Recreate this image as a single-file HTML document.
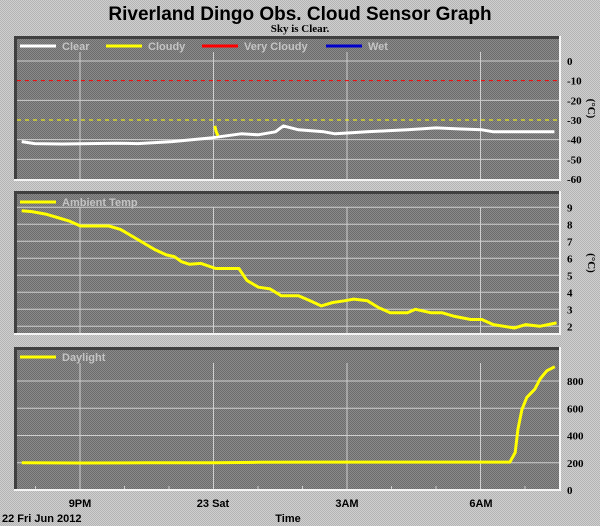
<!DOCTYPE html>
<html><head><meta charset="utf-8"><style>
html,body{margin:0;padding:0;background:#c6c6c6;}
svg{display:block;font-family:"Liberation Sans",sans-serif;}
.ax{font-family:"Liberation Serif",serif;font-weight:bold;font-size:11px;fill:#000;}
.xl{font-family:"Liberation Sans",sans-serif;font-weight:bold;font-size:11px;fill:#000;}
.lg{font-weight:bold;font-size:11px;fill:#c4c4c4;}
</style></head><body>
<svg id="chart" width="600" height="526" viewBox="0 0 600 526">
<defs>
<pattern id="bgp" width="2" height="2" patternUnits="userSpaceOnUse"><rect width="2" height="2" fill="#cfcfcf"/><rect width="1" height="1" fill="#b4b4b4"/><rect x="1" y="1" width="1" height="1" fill="#b4b4b4"/></pattern>
<pattern id="plp" width="2" height="2" patternUnits="userSpaceOnUse"><rect width="2" height="2" fill="#8a8a8a"/><rect width="1" height="1" fill="#6c6c6c"/><rect x="1" y="1" width="1" height="1" fill="#6c6c6c"/></pattern>
</defs>
<rect width="600" height="526" fill="url(#bgp)"/>
<text x="300" y="20" text-anchor="middle" font-weight="bold" font-size="19" fill="#000">Riverland Dingo Obs. Cloud Sensor Graph</text>
<text x="300" y="32" text-anchor="middle" class="ax" font-size="11">Sky is Clear.</text>
<g id="layer"></g>
<text x="80" y="507" text-anchor="middle" class="xl">9PM</text>
<text x="213" y="507" text-anchor="middle" class="xl">23 Sat</text>
<text x="347" y="507" text-anchor="middle" class="xl">3AM</text>
<text x="481" y="507" text-anchor="middle" class="xl">6AM</text>
<text x="2" y="522" class="xl">22 Fri Jun 2012</text>
<text x="288" y="522" text-anchor="middle" class="xl">Time</text>
</svg>
<script>
// ---- data (time in hours since Fri 00:00) ----
const skyT = [19.69,19.98,20.6,21.2,21.8,22.30,23.07,23.98,24.62,25.0,25.39,25.57,25.91,26.48,26.73,27.1,27.45,27.9,28.36,29.0,29.5,30.03,30.29,30.7,31.07,31.66];
const skyV = [-41,-42,-42.2,-42,-41.8,-42,-41,-39,-37,-37.5,-36,-33,-35,-36,-37,-36.5,-36,-35.5,-35,-34,-34.5,-35,-36,-36,-36,-36];
const cloudyT = [24.03,24.06,24.10];
const cloudyV = [-33,-36,-38];
const ambT = [19.69,19.92,20.23,20.49,20.75,21.01,21.65,21.91,22.17,22.43,22.69,22.94,23.12,23.28,23.46,23.72,24.05,24.57,24.75,25.01,25.27,25.52,25.91,26.17,26.42,26.68,26.94,27.15,27.46,27.71,27.97,28.36,28.54,28.88,29.13,29.39,29.78,30.03,30.29,30.76,31.02,31.33,31.71];
const ambV = [8.8,8.75,8.6,8.4,8.2,7.9,7.9,7.7,7.3,6.9,6.5,6.2,6.1,5.8,5.65,5.7,5.4,5.4,4.7,4.3,4.2,3.8,3.8,3.5,3.2,3.4,3.5,3.6,3.5,3.1,2.8,2.8,3.0,2.8,2.8,2.6,2.4,2.4,2.1,1.9,2.1,2.0,2.2];
const dayT = [19.69,21.0,22.5,24.0,25.0,26.5,28.0,29.5,30.5,30.66,30.78,30.84,30.93,31.04,31.22,31.34,31.49,31.67];
const dayV = [200,198,200,200,203,205,205,205,205,205,275,445,590,680,740,815,875,905];
const skyTicks = [0,-10,-20,-30,-40,-50,-60];
const ambTicks = [9,8,7,6,5,4,3,2];
const dayTicks = [800,600,400,200,0];
const gridHours = [21,24,27,30];

const NS="http://www.w3.org/2000/svg";
const layer=document.getElementById('layer');
function mk(tag,attrs,parent){const e=document.createElementNS(NS,tag);for(const k in attrs)e.setAttribute(k,attrs[k]);(parent||layer).appendChild(e);return e;}
const xS = t => 80 + (t-21)*44.5;

function panel(name,top,bot,yS,ticks,gridVals,unit){
  const g=mk('g',{});
  
  
  const r=mk('rect',{x:14,y:top,width:547,height:bot-top,fill:'url(#plp)'},g);
  
  
  mk('rect',{x:14,y:top,width:547,height:3,fill:'#404040'},g);
  mk('rect',{x:14,y:top,width:3,height:bot-top,fill:'#404040'},g);
  mk('rect',{x:14,y:bot-2,width:547,height:2,fill:'#f4f4f4'},g);
  mk('rect',{x:559,y:top,width:2,height:bot-top,fill:'#f4f4f4'},g);
  gridVals.forEach(v=>{const l=mk('line',{x1:17,x2:559,y1:yS(v),y2:yS(v),stroke:'#cfcfcf','stroke-width':1},g);
    
    });
  gridHours.forEach(h=>{const l=mk('line',{x1:xS(h),x2:xS(h),y1:top+16,y2:bot-2,stroke:'#cfcfcf','stroke-width':1},g);
    
    });
  ticks.forEach(v=>{const tx=mk('text',{x:567,y:yS(v)+4,class:'ax'},g);tx.textContent=v;
    
    });
  const u=mk('text',{x:588,y:(top+bot)/2,class:'ax',transform:`rotate(90 588 ${(top+bot)/2})`,'text-anchor':'middle'},g);
  u.textContent=unit;
  
  
  return g;
}
function line(g,T,V,yS,color,name,w){
  const d=T.map((t,i)=>(i?'L':'M')+xS(t).toFixed(1)+','+yS(V[i]).toFixed(1)).join('');
  const p=mk('path',{d:d,fill:'none',stroke:color,'stroke-width':w||3,'stroke-linejoin':'round'},g);
  
  
}
function legend(g,x,y,color,label,name){
  const l=mk('line',{x1:x,x2:x+36,y1:y,y2:y,stroke:color,'stroke-width':3},g);
  
  
  const t=mk('text',{x:x+42,y:y+4,class:'lg'},g);t.textContent=label;
  
  
}
// panel 1 sky temperature
const y1=v=>61-v*1.967;
const g1=panel('sky-temp',36,181,y1,skyTicks,[0,-20,-40,-50],'(°C)');
[-10,-30].forEach((v,i)=>{const l=mk('line',{x1:17,x2:559,y1:y1(v),y2:y1(v),stroke:i?'#ffff00':'#ff0000','stroke-width':1,'stroke-dasharray':'4,4'},g1);
  
  });
line(g1,skyT,skyV,y1,'#ffffff','clear-sky-line');
line(g1,cloudyT,cloudyV,y1,'#ffff00','cloudy-sky-line');
legend(g1,20,46,'#ffffff','Clear','clear');
legend(g1,106,46,'#ffff00','Cloudy','cloudy');
legend(g1,202,46,'#ff0000','Very Cloudy','very-cloudy');
legend(g1,326,46,'#0000cc','Wet','wet');
// panel 2 ambient
const y2=v=>207.3+(9-v)*17;
const g2=panel('ambient-temp',191,335,y2,ambTicks,[9,8,7,6,5,4,3,2],'(°C)');
line(g2,ambT,ambV,y2,'#ffff00','ambient-temp-line');
legend(g2,20,202,'#ffff00','Ambient Temp','ambient-temp');
// panel 3 daylight
const y3=v=>490-v*0.13625;
const g3=panel('daylight',347,491,y3,dayTicks,[800,600,400,200],'');
line(g3,dayT,dayV,y3,'#ffff00','daylight-line');
legend(g3,20,357,'#ffff00','Daylight','daylight');
for(let h=20;h<=31;h++){const l=mk('line',{x1:xS(h),x2:xS(h),y1:486,y2:489,stroke:'#cfcfcf'},g3);
  
  }
</script>
</body></html>
